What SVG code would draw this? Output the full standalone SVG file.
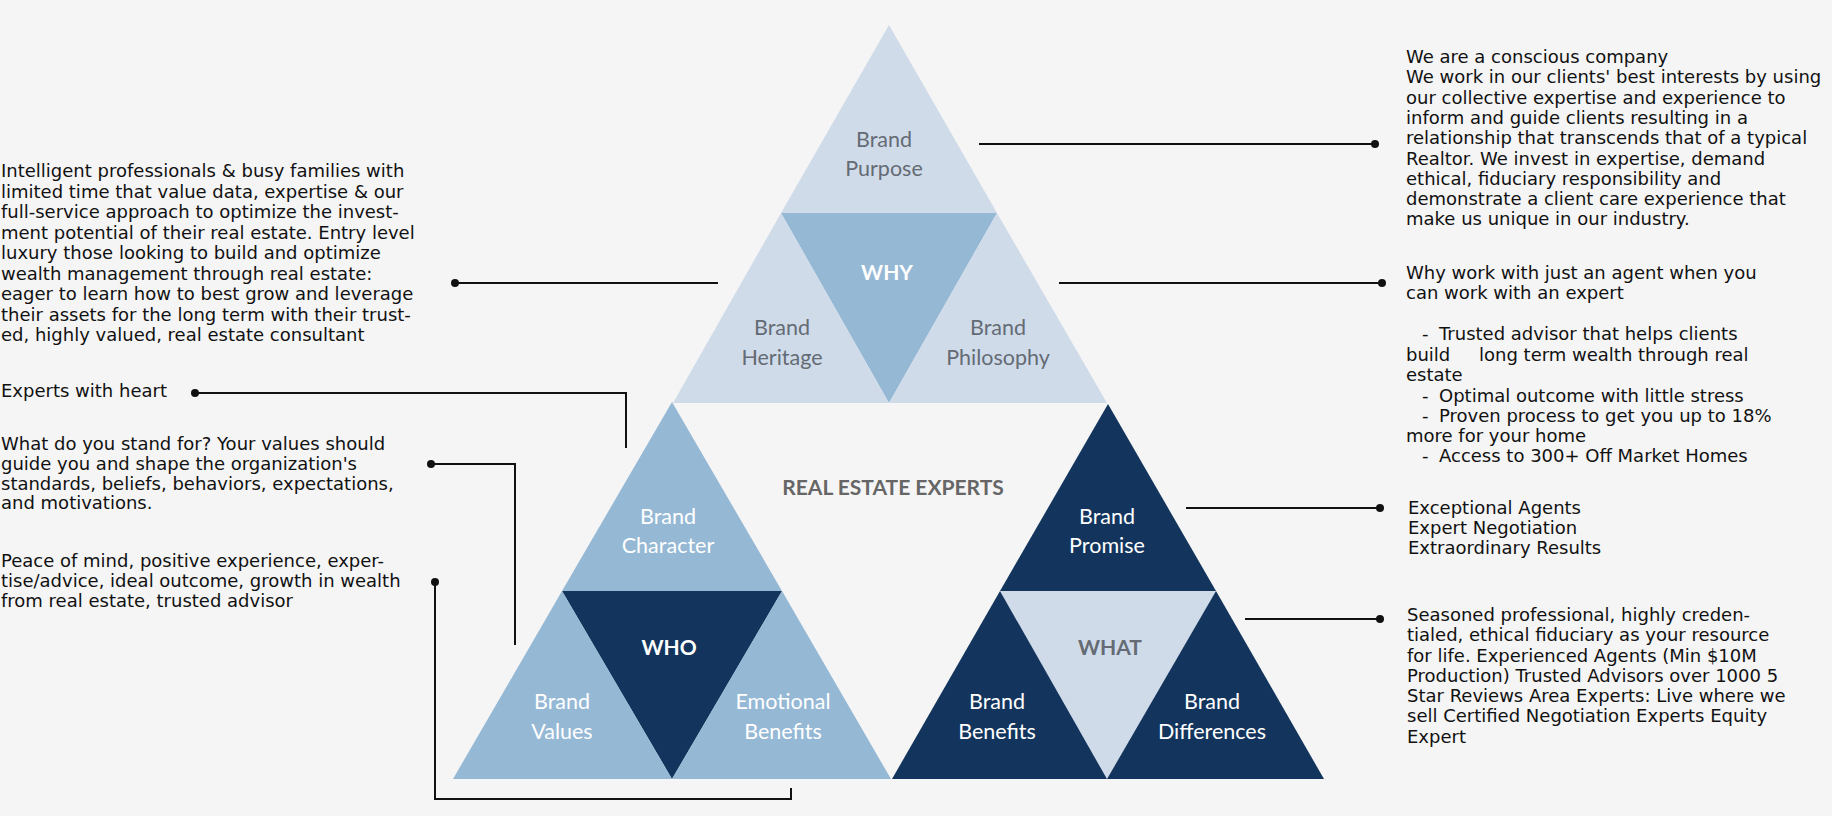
<svg xmlns="http://www.w3.org/2000/svg" width="1832" height="816" viewBox="0 0 1832 816">
<style>
.body{font-family:"DejaVu Sans","Liberation Sans",sans-serif;font-size:18px;fill:#111}
.lbl{font-family:Lato,"Liberation Sans",sans-serif;font-size:21.5px;text-anchor:middle}
.hd{font-family:Lato,"Liberation Sans",sans-serif;font-size:21px;font-weight:bold;text-anchor:middle}
.light{fill:#d0dbea}
.mid{fill:#95b8d5}
.dark{fill:#13355d}
.tg{fill:#646b74}
.tw{fill:#ffffff}
.conn{fill:none;stroke:#111;stroke-width:2}
.dot{fill:#111}
</style>
<rect width="1832" height="816" fill="#f5f5f5"/>

<g id="brand-purpose"><polygon class="light" points="889,25 781,213 997,213"/><text class="lbl tg" x="884" y="147">Brand</text><text class="lbl tg" x="884" y="176">Purpose</text></g>
<g id="why"><polygon class="mid" points="781,213 997,213 889,403"/><text class="hd tw" x="887" y="280">WHY</text></g>
<g id="brand-heritage"><polygon class="light" points="781,213 889,403 673,403"/><text class="lbl tg" x="782" y="335">Brand</text><text class="lbl tg" x="782" y="365">Heritage</text></g>
<g id="brand-philosophy"><polygon class="light" points="997,213 1107,403 889,403"/><text class="lbl tg" x="998" y="335">Brand</text><text class="lbl tg" x="998" y="365">Philosophy</text></g>

<g id="brand-character"><polygon class="mid" points="672,402 562,591 782,591"/><text class="lbl tw" x="668" y="524">Brand</text><text class="lbl tw" x="668" y="553">Character</text></g>
<g id="who"><polygon class="dark" points="562,591 782,591 672,779"/><text class="hd tw" x="669" y="655">WHO</text></g>
<g id="brand-values"><polygon class="mid" points="562,591 672,779 453,779"/><text class="lbl tw" x="562" y="709">Brand</text><text class="lbl tw" x="562" y="739">Values</text></g>
<g id="emotional-benefits"><polygon class="mid" points="782,591 891,779 672,779"/><text class="lbl tw" x="783" y="709">Emotional</text><text class="lbl tw" x="783" y="739">Benefits</text></g>

<g id="brand-promise"><polygon class="dark" points="1108,404 1000,591 1216,591"/><text class="lbl tw" x="1107" y="524">Brand</text><text class="lbl tw" x="1107" y="553">Promise</text></g>
<g id="what"><polygon class="light" points="1000,591 1216,591 1107,779"/><text class="hd tg" x="1110" y="655">WHAT</text></g>
<g id="brand-benefits"><polygon class="dark" points="1000,591 1107,779 892,779"/><text class="lbl tw" x="997" y="709">Brand</text><text class="lbl tw" x="997" y="739">Benefits</text></g>
<g id="brand-differences"><polygon class="dark" points="1216,591 1324,779 1107,779"/><text class="lbl tw" x="1212" y="709">Brand</text><text class="lbl tw" x="1212" y="739">Differences</text></g>

<g id="title"><text class="hd" x="893" y="495" fill="#666666">REAL ESTATE EXPERTS</text></g>

<g id="connectors">
<line class="conn" x1="979" y1="144" x2="1375" y2="144"/><circle class="dot" cx="1375" cy="144" r="4"/>
<line class="conn" x1="455" y1="283" x2="718" y2="283"/><circle class="dot" cx="455" cy="283" r="4"/>
<line class="conn" x1="1059" y1="283" x2="1382" y2="283"/><circle class="dot" cx="1382" cy="283" r="4"/>
<polyline class="conn" points="195,393 626,393 626,448"/><circle class="dot" cx="195" cy="393" r="4"/>
<polyline class="conn" points="431,464 515,464 515,645"/><circle class="dot" cx="431" cy="464" r="4"/>
<polyline class="conn" points="435,582 435,799 791,799 791,788"/><circle class="dot" cx="435" cy="582" r="4"/>
<line class="conn" x1="1186" y1="508" x2="1380" y2="508"/><circle class="dot" cx="1380" cy="508" r="4"/>
<line class="conn" x1="1245" y1="619" x2="1380" y2="619"/><circle class="dot" cx="1380" cy="619" r="4"/>
</g>

<g id="text-purpose">
<text class="body" x="1406" y="63">We are a conscious company</text>
<text class="body" x="1406" y="83.3">We work in our clients' best interests by using</text>
<text class="body" x="1406" y="103.6">our collective expertise and experience to</text>
<text class="body" x="1406" y="123.9">inform and guide clients resulting in a</text>
<text class="body" x="1406" y="144.2">relationship that transcends that of a typical</text>
<text class="body" x="1406" y="164.5">Realtor. We invest in expertise, demand</text>
<text class="body" x="1406" y="184.8">ethical, fiduciary responsibility and</text>
<text class="body" x="1406" y="205.1">demonstrate a client care experience that</text>
<text class="body" x="1406" y="225.4">make us unique in our industry.</text>
</g>

<g id="text-philosophy">
<text class="body" x="1406" y="279">Why work with just an agent when you</text>
<text class="body" x="1406" y="299">can work with an expert</text>
<text class="body" y="340"><tspan x="1422">-</tspan><tspan x="1439">Trusted advisor that helps clients</tspan></text>
<text class="body" y="360.5"><tspan x="1406">build</tspan><tspan x="1479">long term wealth through real</tspan></text>
<text class="body" x="1406" y="380.5">estate</text>
<text class="body" y="401.5"><tspan x="1422">-</tspan><tspan x="1439">Optimal outcome with little stress</tspan></text>
<text class="body" y="421.5"><tspan x="1422">-</tspan><tspan x="1439">Proven process to get you up to 18%</tspan></text>
<text class="body" x="1406" y="442">more for your home</text>
<text class="body" y="462"><tspan x="1422">-</tspan><tspan x="1439">Access to 300+ Off Market Homes</tspan></text>
</g>

<g id="text-promise">
<text class="body" x="1408" y="514">Exceptional Agents</text>
<text class="body" x="1408" y="534">Expert Negotiation</text>
<text class="body" x="1408" y="554">Extraordinary Results</text>
</g>

<g id="text-differences">
<text class="body" x="1407" y="621">Seasoned professional, highly creden-</text>
<text class="body" x="1407" y="641">tialed, ethical fiduciary as your resource</text>
<text class="body" x="1407" y="661.5">for life. Experienced Agents (Min $10M</text>
<text class="body" x="1407" y="682">Production) Trusted Advisors over 1000 5</text>
<text class="body" x="1407" y="702">Star Reviews Area Experts: Live where we</text>
<text class="body" x="1407" y="722">sell Certified Negotiation Experts Equity</text>
<text class="body" x="1407" y="743">Expert</text>
</g>

<g id="text-heritage">
<text class="body" x="1" y="177">Intelligent professionals &amp; busy families with</text>
<text class="body" x="1" y="197.5">limited time that value data, expertise &amp; our</text>
<text class="body" x="1" y="218">full-service approach to optimize the invest-</text>
<text class="body" x="1" y="238.5">ment potential of their real estate. Entry level</text>
<text class="body" x="1" y="259">luxury those looking to build and optimize</text>
<text class="body" x="1" y="279.5">wealth management through real estate:</text>
<text class="body" x="1" y="300">eager to learn how to best grow and leverage</text>
<text class="body" x="1" y="320.5">their assets for the long term with their trust-</text>
<text class="body" x="1" y="341">ed, highly valued, real estate consultant</text>
</g>

<g id="text-character">
<text class="body" x="1" y="397">Experts with heart</text>
</g>

<g id="text-values">
<text class="body" x="1" y="450">What do you stand for? Your values should</text>
<text class="body" x="1" y="470">guide you and shape the organization's</text>
<text class="body" x="1" y="490">standards, beliefs, behaviors, expectations,</text>
<text class="body" x="1" y="509">and motivations.</text>
</g>

<g id="text-emotional">
<text class="body" x="1" y="567">Peace of mind, positive experience, exper-</text>
<text class="body" x="1" y="587">tise/advice, ideal outcome, growth in wealth</text>
<text class="body" x="1" y="607">from real estate, trusted advisor</text>
</g>
</svg>
